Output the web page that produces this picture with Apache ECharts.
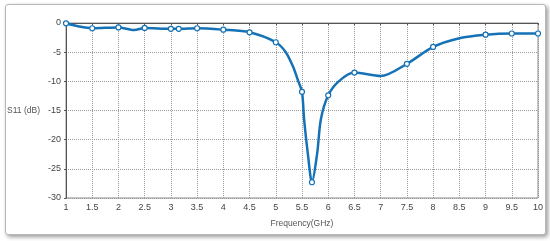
<!DOCTYPE html>
<html>
<head>
<meta charset="utf-8">
<script src="https://cdn.jsdelivr.net/npm/echarts@6/dist/echarts.min.js"></script>
<style>
  html, body { margin: 0; padding: 0; background: #fff; }
  #frame {
    position: absolute; left: 5px; top: 4px; width: 539px; height: 229px;
    border: 1px solid #b8b8b8; border-radius: 3px;
    box-shadow: 2px 2px 4px rgba(0,0,0,0.4);
    background: #fff;
  }
  #main { position: absolute; left: 0; top: 0; width: 550px; height: 241px; }
</style>
</head>
<body>
<div id="frame"></div>
<div id="main"></div>
<script>
// frequency (GHz) and S11 (dB)
var freq = [1, 1.25, 1.5, 2, 2.3, 2.5, 3, 3.15, 3.5, 4, 4.5, 5, 5.19, 5.33, 5.43, 5.5, 5.54, 5.61, 5.69, 5.79, 5.86, 6, 6.2, 6.5, 7, 7.5, 8, 8.5, 9, 9.5, 10];
var s11 = [-0.05, -0.6, -0.9, -0.75, -1.2, -0.85, -1.0, -1.0, -0.9, -1.15, -1.6, -3.3, -5.0, -7.5, -10.0, -11.8, -16.5, -22.3, -27.3, -22.3, -16.5, -12.4, -10.0, -8.5, -9.1, -7.0, -4.1, -2.6, -2.0, -1.8, -1.8];
// which points carry a circle marker
var hasMarker = [1, 0, 1, 1, 0, 1, 1, 1, 1, 1, 1, 1, 0, 0, 0, 1, 0, 0, 1, 0, 0, 1, 0, 1, 0, 1, 1, 0, 1, 1, 1];

var xTicks = { min: 1, max: 10, step: 0.5 };
var yTicks = { min: -30, max: 0, step: 5 };

var lineColor = '#1672b6';
var font = "'Liberation Sans', sans-serif";

var points = freq.map(function (f, i) {
    return {
        value: [f, s11[i]],
        symbol: hasMarker[i] ? 'circle' : 'none'
    };
});

var chart = echarts.init(document.getElementById('main'));
chart.setOption({
    animation: false,
    grid: {
        left: 66, right: 12, top: 23, bottom: 43,
        show: true, borderColor: '#8a8a8a', borderWidth: 1
    },
    xAxis: {
        type: 'value',
        min: xTicks.min, max: xTicks.max, interval: xTicks.step,
        name: 'Frequency(GHz)',
        nameLocation: 'middle',
        nameGap: 21,
        nameTextStyle: { color: '#555', fontSize: 8.5, fontFamily: font },
        axisLine: { lineStyle: { color: '#555', width: 1 } },
        axisTick: { show: true, length: 2, lineStyle: { color: '#555' } },
        axisLabel: { color: '#444', fontSize: 9, margin: 5, fontFamily: font },
        splitLine: { show: true, lineStyle: { color: '#9a9a9a', type: [1, 1], width: 1 } }
    },
    yAxis: {
        type: 'value',
        min: yTicks.min, max: yTicks.max, interval: yTicks.step,
        name: 'S11 (dB)',
        nameLocation: 'middle',
        nameRotate: 0,
        nameGap: 26,
        nameTextStyle: { color: '#555', fontSize: 8.5, fontFamily: font, align: 'right' },
        axisLine: { show: true, lineStyle: { color: '#555', width: 1 } },
        axisTick: { show: true, length: 2, lineStyle: { color: '#555' } },
        axisLabel: { color: '#444', fontSize: 9, margin: 5, fontFamily: font },
        splitLine: { show: true, lineStyle: { color: '#9a9a9a', type: [1, 1], width: 1 } }
    },
    series: [{
        type: 'line',
        data: points,
        smooth: 0.3,
        symbolSize: 5,
        showAllSymbol: true,
        lineStyle: { color: lineColor, width: 2.5 },
        itemStyle: { color: '#fff', borderColor: lineColor, borderWidth: 1.2 }
    }]
});
</script>
</body>
</html>
